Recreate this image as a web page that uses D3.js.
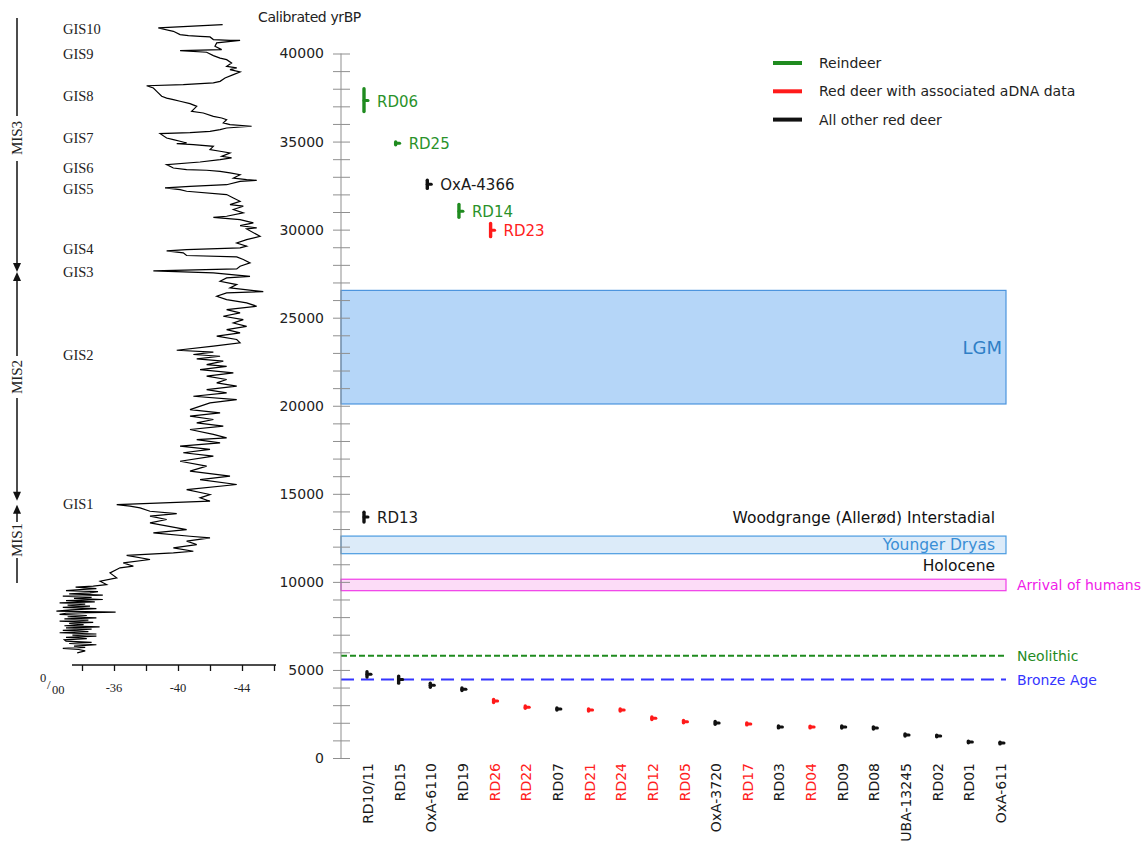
<!DOCTYPE html>
<html><head><meta charset="utf-8">
<script src="https://cdn.jsdelivr.net/npm/d3@7/dist/d3.min.js"></script>
<style>
body{margin:0;background:#fff;}
svg{display:block;}
text{font-family:"DejaVu Sans",Verdana,sans-serif;}
.serif{font-family:"Liberation Serif","Times New Roman",serif;}
</style></head>
<body><svg id="c" width="1146" height="843"></svg>
<script>
// ---------- DATA ----------
const categories = ["RD10/11","RD15","OxA-6110","RD19","RD26","RD22","RD07","RD21","RD24","RD12","RD05","OxA-3720","RD17","RD03","RD04","RD09","RD08","UBA-13245","RD02","RD01","OxA-611"];
const catGroup = ["other","other","other","other","adna","adna","other","adna","adna","adna","adna","other","adna","other","adna","other","other","other","other","other","other"];
const catAge = [4750,4450,4130,3900,3230,2880,2780,2720,2720,2250,2060,1990,1930,1760,1760,1760,1700,1310,1250,910,850];
const catLo  = [4600,4250,4020,3830,3150,2820,2720,2670,2670,2180,2000,1920,1880,1710,1710,1700,1640,1250,1200,860,800];
const catHi  = [4900,4650,4250,3980,3320,2950,2840,2780,2780,2330,2130,2070,1990,1820,1810,1820,1770,1370,1300,960,900];

const oldLabels = ["RD06","RD25","OxA-4366","RD14","RD23","RD13"];
const oldGroup  = ["reindeer","reindeer","other","reindeer","adna","other"];
const oldColumn = [0,1,2,3,4,0];
const oldAge = [37330,34900,32570,31050,29960,13680];
const oldLo  = [36700,34820,32340,30700,29600,13400];
const oldHi  = [38000,34980,32800,31430,30350,13950];

const legendLabels = ["Reindeer","Red deer with associated aDNA data","All other red deer"];
const legendGroups = ["reindeer","adna","other"];

const periodNames = ["LGM","Younger Dryas","Arrival of humans"];
const periodStart = [26550,12600,10150];
const periodEnd   = [20100,11600,9500];
const lineNames = ["Neolithic","Bronze Age"];
const lineAges  = [5800,4450];
const textNames = ["Woodgrange (Allerød) Interstadial","Holocene"];
const textAges  = [13620,10900];

const yTicksMajor = [0,5000,10000,15000,20000,25000,30000,35000,40000];

const gisLabels = ["GIS10","GIS9","GIS8","GIS7","GIS6","GIS5","GIS4","GIS3","GIS2","GIS1"];
const gisAge = [41.4,40.0,37.6,35.2,33.5,32.3,28.9,27.6,22.9,14.4];
const misLabels = ["MIS3","MIS2","MIS1"];
const misBoundaries = [27.6,14.55];
const d18oTicks = [-34,-36,-38,-40,-42,-44,-46];
const d18oTickLabels = ["-36","-40","-44"];

// ice core (kyr BP, per mil)
const iceAge = [41.64,41.45,41.26,41.07,41.01,40.97,40.94,40.79,40.75,40.75,40.60,40.41,40.22,40.16,40.07,39.88,39.74,39.65,39.46,39.27,39.18,39.08,38.95,38.80,38.61,38.42,38.33,38.23,38.17,38.04,37.85,37.57,37.47,37.38,37.29,37.15,37.00,36.72,36.62,36.43,36.34,36.24,36.06,35.96,35.87,35.77,35.68,35.58,35.51,35.45,35.20,35.11,35.02,34.92,34.88,34.83,34.73,34.54,34.45,34.35,34.16,34.07,33.97,33.84,33.69,33.50,33.41,33.37,33.31,33.22,33.12,32.93,32.84,32.80,32.74,32.55,32.46,32.37,32.27,32.18,31.99,31.80,31.61,31.42,31.33,31.14,30.95,30.76,30.70,30.57,30.38,30.23,30.10,
30.04,29.62,29.43,29.24,29.06,28.96,28.87,28.79,28.68,28.53,28.45,28.30,28.11,27.92,27.77,27.66,27.54,27.35,27.26,27.07,26.88,26.69,26.48,26.41,26.22,26.03,25.84,25.65,25.46,25.27,25.08,24.89,24.70,24.51,24.32,24.14,23.95,23.76,23.57,23.38,23.15,23.04,22.91,22.81,22.66,22.53,22.34,22.24,22.05,21.87,21.68,21.49,21.30,21.11,20.92,20.73,20.54,20.35,20.16,19.78,19.60,19.41,19.22,19.03,18.84,18.65,18.37,18.18,
18.08,17.89,17.71,17.52,17.33,17.14,16.85,16.57,16.29,16.00,15.81,15.53,15.24,14.96,14.77,14.58,14.39,14.30,14.20,14.01,13.88,13.73,13.54,13.35,12.97,12.78,12.59,12.50,12.31,12.12,11.93,11.74,11.65,11.50,11.27,11.08,10.89,10.80,10.51,10.23,10.04,9.85,
9.76,9.70,9.62,9.57,9.50,9.45,9.38,9.32,9.25,9.19,9.12,9.06,9.00,8.93,8.87,8.81,8.74,8.68,8.62,8.55,8.48,8.41,8.34,8.28,8.22,8.15,8.09,8.02,7.96,7.90,7.83,7.77,7.70,7.64,7.57,7.51,7.45,7.39,7.32,7.25,7.18,7.11,7.04,6.98,6.92,6.85,6.78,6.71,6.64,6.57,6.50,6.43,6.35,6.28,6.22,6.16,6.08,5.97];
const iceD18O = [-42.79,-38.77,-39.71,-40.13,-40.65,-41.38,-42.00,-42.21,-43.25,-43.88,-42.42,-42.31,-42.73,-40.13,-41.79,-42.21,-42.63,-43.04,-43.35,-43.04,-43.67,-43.25,-43.88,-43.46,-42.94,-42.63,-42.21,-40.33,-38.04,-38.46,-38.67,-38.98,-39.29,-39.71,-40.13,-40.75,-41.17,-40.85,-41.58,-42.21,-42.73,-43.04,-42.83,-43.25,-44.60,-43.04,-42.63,-42.00,-40.75,-38.88,-39.29,-39.71,-40.13,-40.54,-39.92,-40.96,-42.21,-42.00,-42.63,-43.25,-42.73,-43.35,-42.63,-41.38,-39.29,-39.71,-40.54,-41.79,-42.63,-43.25,-43.88,-43.46,-44.29,-44.92,-43.88,-43.04,-40.75,-39.19,-40.13,-40.54,-43.04,-43.46,-43.88,-43.25,-44.08,-43.46,-44.08,-43.04,-42.21,-43.88,-44.71,-43.88,-44.92,
-44.29,-45.13,-44.29,-43.67,-44.29,-43.88,-40.54,-39.29,-40.33,-40.54,-43.67,-44.08,-44.50,-43.88,-43.67,-38.46,-42.21,-44.50,-43.04,-42.63,-43.67,-43.25,-45.33,-43.04,-42.42,-43.04,-44.29,-44.92,-43.04,-43.88,-42.83,-44.08,-43.46,-44.29,-43.04,-43.88,-42.42,-43.67,-43.88,-42.21,-39.92,-42.21,-40.96,-42.63,-41.17,-42.83,-41.79,-43.04,-41.38,-43.46,-41.79,-43.04,-42.42,-43.67,-41.79,-43.04,-40.96,-43.67,-42.00,-40.75,-42.63,-40.75,-42.21,-41.17,-42.83,-40.75,-42.21,-43.04,
-41.17,-42.63,-40.13,-42.00,-40.33,-42.21,-40.13,-41.79,-40.75,-43.25,-41.38,-43.67,-40.54,-42.00,-41.38,-42.00,-36.17,-37.00,-37.63,-38.25,-39.92,-38.25,-39.29,-38.25,-40.54,-38.46,-40.75,-42.00,-40.54,-41.17,-39.71,-40.96,-39.71,-36.79,-38.25,-36.58,-37.21,-36.38,-35.75,-36.17,-35.13,-35.54,
-34.7,-33.6,-34.9,-34.1,-33.0,-35.0,-34.5,-33.2,-35.3,-32.8,-34.6,-33.5,-35.3,-33.0,-34.8,-32.6,-34.2,-33.1,-34.5,-32.8,-34.9,-33.3,-32.4,-36.1,-33.0,-32.6,-34.3,-33.1,-34.9,-32.9,-34.4,-32.6,-34.7,-33.2,-34.1,-32.9,-35.1,-33.0,-34.6,-32.8,-34.4,-32.6,-34.9,-33.4,-34.9,-33.0,-34.3,-32.9,-33.0,-34.6,-33.2,-34.9,-33.5,-34.2,-32.8,-33.8,-34.2,-33.7];

// ---------- STYLE ----------
const colors = {reindeer:"#1f8b1f", adna:"#ff1a1a", other:"#111111"};
const labelColors = {reindeer:"#2a922a", adna:"#ff2020", other:"#1a1a1a"};
const periodFill = ["#b5d6f8","#dcebf9","#fcdcf7"];
const periodStroke = ["#4b94de","#4a9be0","#f03ce8"];
const periodText = ["#2f7fc6","#3a8fd6","#f020e8"];
const lineColors = ["#1f8b1f","#3535ff"];
const lineDash = ["6,3","13,7"];

const svg = d3.select("#c");
svg.append("rect").attr("width",1146).attr("height",843).attr("fill","#fff");

const y = d3.scaleLinear().domain([0,40000]).range([758,53.5]);
const x = d3.scalePoint().domain(categories).range([368,1001]);
const axisX = 341, rightX = 1006;

// period rectangles
periodNames.forEach((n,i)=>{
  const y0 = y(periodStart[i]), y1 = y(periodEnd[i]);
  svg.append("rect").attr("x",axisX).attr("y",y0).attr("width",rightX-axisX).attr("height",y1-y0)
    .attr("fill",periodFill[i]).attr("stroke",periodStroke[i]).attr("stroke-width",1.2);
});
svg.append("text").text(periodNames[0]).attr("x",1002).attr("y",(y(periodStart[0])+y(periodEnd[0]))/2)
  .attr("text-anchor","end").attr("dominant-baseline","central").attr("font-size",18).attr("fill",periodText[0]);
svg.append("text").text(periodNames[1]).attr("x",995).attr("y",(y(periodStart[1])+y(periodEnd[1]))/2+0.5)
  .attr("text-anchor","end").attr("dominant-baseline","central").attr("font-size",15.5).attr("fill",periodText[1]);
svg.append("text").text(periodNames[2]).attr("x",1017).attr("y",(y(periodStart[2])+y(periodEnd[2]))/2)
  .attr("dominant-baseline","central").attr("font-size",14).attr("fill",periodText[2]);
textNames.forEach((n,i)=>{
  svg.append("text").text(n).attr("x",995).attr("y",y(textAges[i]))
    .attr("text-anchor","end").attr("dominant-baseline","central").attr("font-size",15.5).attr("fill","#111");
});
lineNames.forEach((n,i)=>{
  svg.append("line").attr("x1",axisX).attr("x2",rightX).attr("y1",y(lineAges[i])).attr("y2",y(lineAges[i]))
    .attr("stroke",lineColors[i]).attr("stroke-width",2).attr("stroke-dasharray",lineDash[i]);
  svg.append("text").text(n).attr("x",1017).attr("y",y(lineAges[i])).attr("dominant-baseline","central")
    .attr("font-size",14).attr("fill",lineColors[i]);
});

// y axis
const gMinor = svg.append("g").attr("transform",`translate(${axisX},0)`)
  .call(d3.axisLeft(y).tickValues(d3.range(0,40001,1000)).tickSize(8).tickFormat(""));
gMinor.selectAll(".tick line").attr("x1",9).attr("stroke","#8f8f8f");
gMinor.select(".domain").attr("stroke","#8f8f8f").attr("d",`M0,${y(40000)}V${y(0)}`);
const gMajor = svg.append("g").attr("transform",`translate(${axisX},0)`)
  .call(d3.axisLeft(y).tickValues(yTicksMajor).tickSize(0).tickPadding(17).tickFormat(d3.format("d")));
gMajor.select(".domain").remove();
gMajor.selectAll("text").attr("font-size",14).attr("fill","#222").attr("font-family","DejaVu Sans");
svg.append("text").text("Calibrated yrBP").attr("x",258).attr("y",22).attr("font-size",14)
  .attr("letter-spacing",-0.4).attr("fill","#222");

// category labels
categories.forEach((c,i)=>{
  svg.append("text").text(c).attr("transform",`translate(${x(c)},763) rotate(-90)`)
    .attr("text-anchor","end").attr("dominant-baseline","central").attr("font-size",14)
    .attr("fill",catGroup[i]==="adna"?"#ff2020":"#1a1a1a");
});

function mark(cx, lo, hi, c, col){
  svg.append("line").attr("x1",cx).attr("x2",cx).attr("y1",y(lo)).attr("y2",y(hi))
    .attr("stroke",col).attr("stroke-width",3.4).attr("stroke-linecap","round");
  svg.append("line").attr("x1",cx).attr("x2",cx+4).attr("y1",y(c)).attr("y2",y(c))
    .attr("stroke",col).attr("stroke-width",3).attr("stroke-linecap","round");
}
categories.forEach((c,i)=> mark(x(c)-1, catLo[i], catHi[i], catAge[i], colors[catGroup[i]==="adna"?"adna":"other"]));
oldLabels.forEach((l,i)=>{
  const cx = x(categories[oldColumn[i]])-4;
  mark(cx, oldLo[i], oldHi[i], oldAge[i], colors[oldGroup[i]]);
  svg.append("text").text(l).attr("x",cx+13).attr("y",y(oldAge[i])+1).attr("dominant-baseline","central")
    .attr("font-size",15).attr("fill",labelColors[oldGroup[i]]);
});

// legend
legendLabels.forEach((l,i)=>{
  const ly = 63 + i*28.3;
  svg.append("line").attr("x1",773).attr("x2",802).attr("y1",ly).attr("y2",ly)
    .attr("stroke",colors[legendGroups[i]]).attr("stroke-width",4);
  svg.append("text").text(l).attr("x",819).attr("y",ly).attr("dominant-baseline","central")
    .attr("font-size",14).attr("fill","#222");
});

// ---------- ICE CORE PANEL ----------
const xi = d3.scaleLinear().domain([-34,-46]).range([82,274]);
const yi = a => y(a*1000);
const line = d3.line().x((d,i)=>xi(iceD18O[i])).y((d,i)=>yi(iceAge[i]));
svg.append("path").attr("d",line(iceAge)).attr("fill","none").attr("stroke","#000").attr("stroke-width",1.2);

gisLabels.forEach((g,i)=>{
  svg.append("text").attr("class","serif").text(g).attr("x",63).attr("y",yi(gisAge[i])).attr("dominant-baseline","central")
    .attr("font-size",14.5).attr("fill","#222");
});

// d18O axis
const gI = svg.append("g").attr("transform","translate(0,665)")
  .call(d3.axisBottom(xi).tickValues(d18oTicks).tickSize(6).tickFormat(""));
gI.select(".domain").attr("d","M72,0H276").attr("stroke","#111").attr("stroke-width",1.3);
gI.selectAll(".tick line").attr("stroke","#111").attr("stroke-width",1.3);
d18oTickLabels.forEach(t=>{
  svg.append("text").attr("class","serif").text(t).attr("x",xi(+t)).attr("y",688).attr("text-anchor","middle")
    .attr("dominant-baseline","central").attr("font-size",12.5).attr("fill","#222");
});
svg.append("text").attr("class","serif").text("0").attr("x",40).attr("y",682).attr("font-size",12.5).attr("fill","#222");
svg.append("text").attr("class","serif").text("/").attr("x",47).attr("y",689).attr("font-size",13).attr("fill","#222");
svg.append("text").attr("class","serif").text("00").attr("x",52).attr("y",694).attr("font-size",12.5).attr("fill","#222");

// MIS stages
const mx = 17;
const b1 = yi(misBoundaries[0]), b2 = yi(misBoundaries[1]);
const misCenters = [138, 377, 540];
const seg = (a,b)=> svg.append("line").attr("x1",mx).attr("x2",mx).attr("y1",a).attr("y2",b).attr("stroke","#111").attr("stroke-width",1.5);
seg(18,116); seg(161,b1-4); seg(b1+4,356); seg(398,b2-4); seg(b2+5,522); seg(558,583);
const tri = (tipY, dir)=> svg.append("path")
  .attr("d",`M${mx},${tipY}L${mx-4},${tipY-dir*9}L${mx+4},${tipY-dir*9}Z`).attr("fill","#111");
tri(b1,1); tri(b1,-1); tri(b2-1,1); tri(b2+3,-1);
misLabels.forEach((m,i)=>{
  svg.append("text").attr("class","serif").text(m).attr("transform",`translate(${mx},${misCenters[i]}) rotate(-90)`)
    .attr("text-anchor","middle").attr("dominant-baseline","central").attr("font-size",15).attr("fill","#222");
});
</script></body></html>
